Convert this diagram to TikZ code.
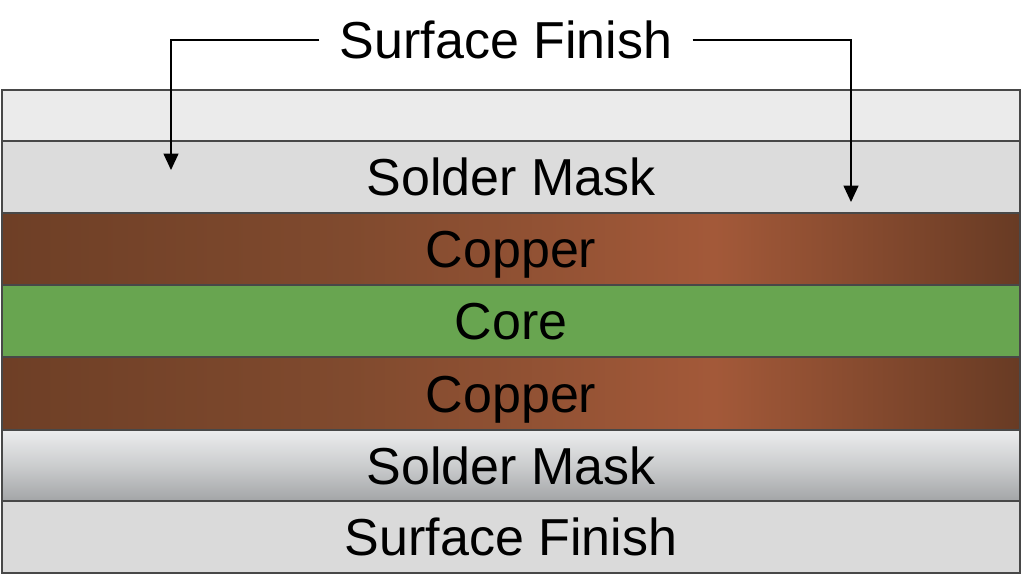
\documentclass[tikz,border=0pt]{standalone}
\usepackage{fontspec}
\setmainfont{Liberation Sans}
\usepackage{tikz}
\usetikzlibrary{arrows.meta,positioning,shadings}
\definecolor{finishcolor}{RGB}{235,235,235}
\definecolor{finishlow}{RGB}{218,218,218}
\definecolor{maskcolor}{RGB}{220,220,220}
\definecolor{masktop}{RGB}{236,237,238}
\definecolor{maskbottom}{RGB}{163,165,167}
\definecolor{corecolor}{RGB}{104,165,80}
\definecolor{edgecolor}{RGB}{72,72,72}
\definecolor{copperdark}{RGB}{110,63,38}
\definecolor{coppermid}{RGB}{128,74,46}
\definecolor{copperlight}{RGB}{163,89,57}
\definecolor{copperend}{RGB}{104,59,36}
% path box maps to 25bp..75bp of the shading
\pgfdeclarehorizontalshading{copperfade}{100bp}{color(0bp)=(copperdark); color(25bp)=(copperdark); color(42bp)=(coppermid); color(60bp)=(copperlight); color(75bp)=(copperend); color(100bp)=(copperend)}

\begin{document}
\begin{tikzpicture}[
    x=0.02cm, y=-0.02cm,
    node distance=0pt,
    layer/.style={rectangle, draw=edgecolor, line width=0.9pt, outer sep=0pt, minimum width=20.36cm, minimum height=1.44cm, font=\fontsize{29.6}{34}\selectfont, text height=21.2pt, text depth=0pt, inner sep=0pt},
    finishlayer/.style={layer, fill=finishlow},
    masklayer/.style={layer, fill=maskcolor},
    copperlayer/.style={layer, shade, shading=copperfade},
    corelayer/.style={layer, fill=corecolor},
    arrow/.style={-{Triangle[width=0.3cm,length=0.33cm]}, line width=0.9pt}
]
\useasboundingbox[fill=white] (0,0) rectangle (1024,576);

% Title
\node[font=\fontsize{29.6}{34}\selectfont, text height=21.2pt, text depth=0pt, inner xsep=0.4cm, inner ysep=0pt] (title) at (506,40) {Surface Finish};

% Layer stack
\node[finishlayer, fill=finishcolor, minimum height=1.02cm] (top_finish) at (511,115.5) {};
\node[masklayer, below=of top_finish] (top_mask) {Solder Mask};
\node[copperlayer, below=of top_mask] (top_copper) {Copper};
\node[corelayer, below=of top_copper] (core) {Core};
\node[copperlayer, below=of core, minimum height=1.46cm] (bottom_copper) {Copper};
\node[layer, top color=masktop, bottom color=maskbottom, middle color=masktop!55!maskbottom, below=of bottom_copper, minimum height=1.42cm] (bottom_mask) {Solder Mask};
\node[finishlayer, below=of bottom_mask] (bottom_finish) {Surface Finish};

% Arrow ends
\coordinate (tip_left) at (171,170);
\coordinate (tip_right) at (851,202);

% Arrows
\draw[arrow] (title.west) -| (tip_left);
\draw[arrow] (title.east) -| (tip_right);

\end{tikzpicture}
\end{document}
